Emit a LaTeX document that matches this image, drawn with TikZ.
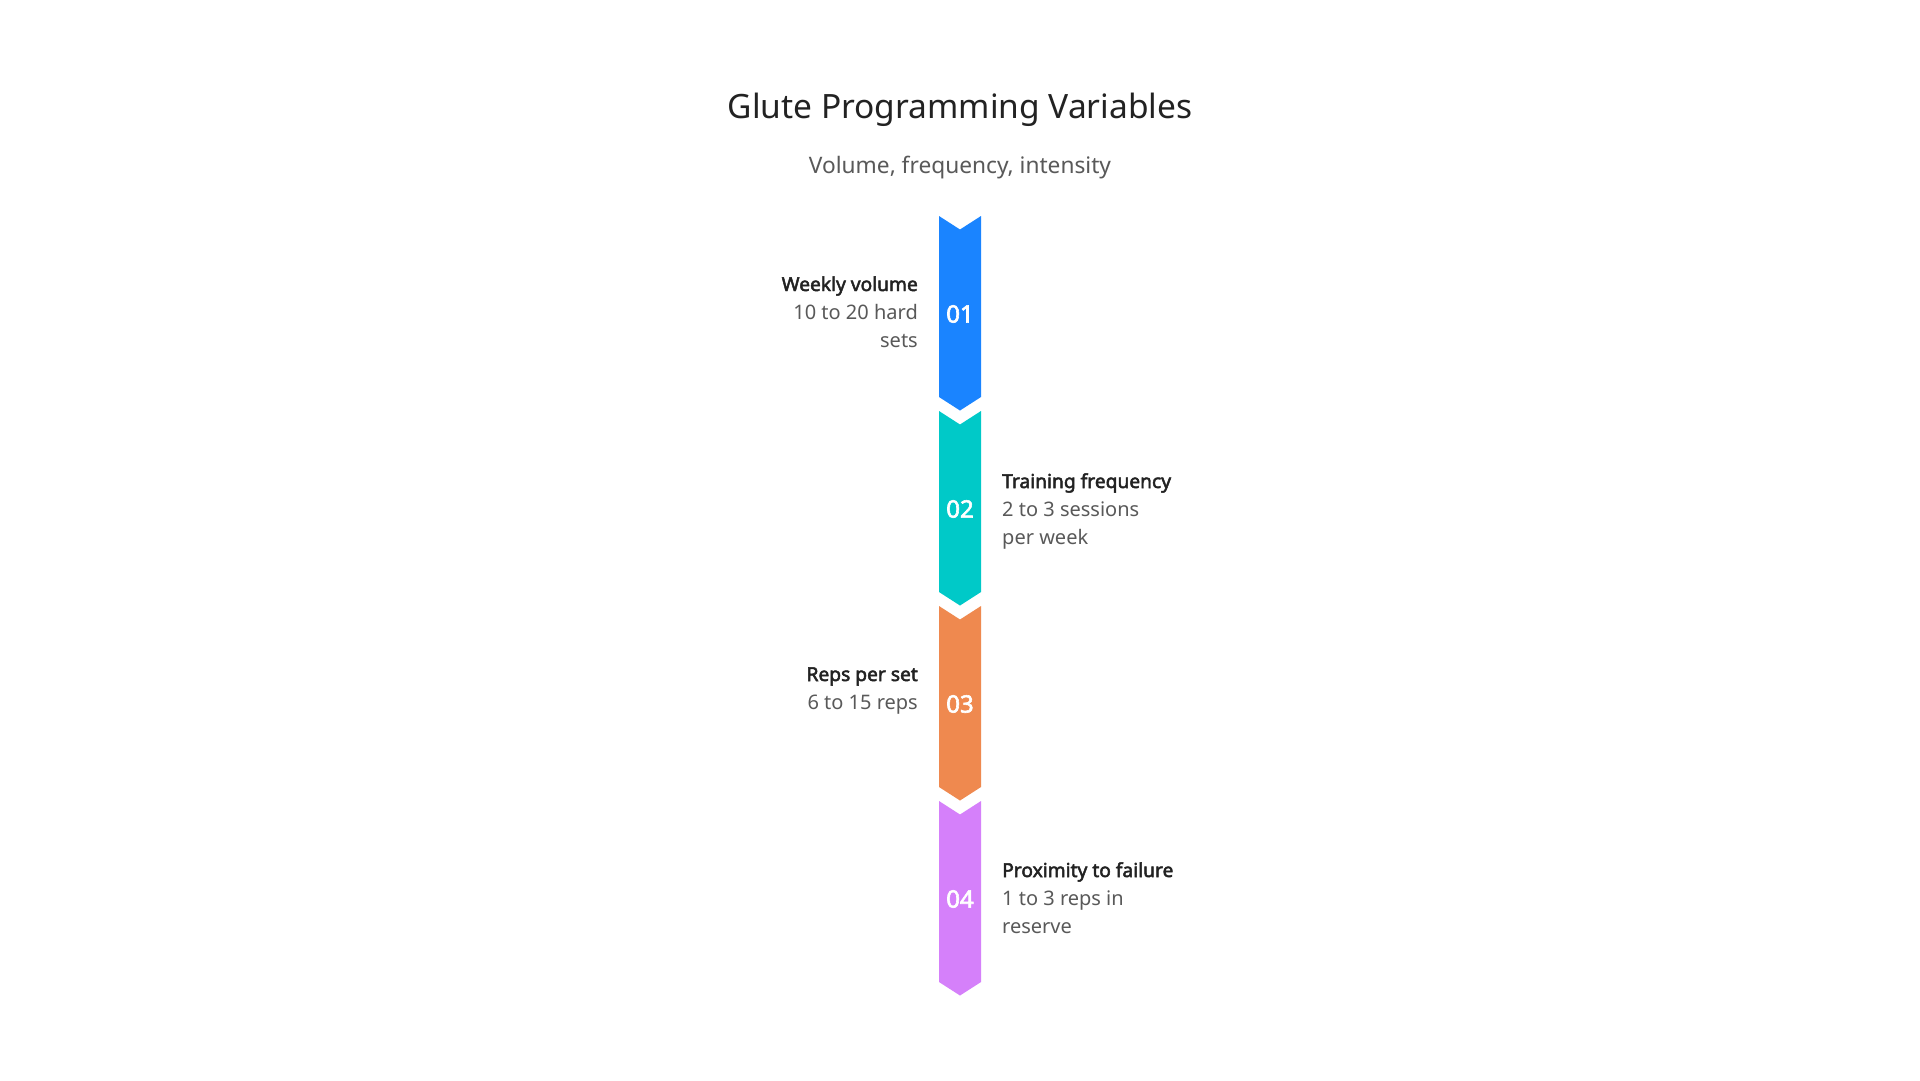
\documentclass[tikz,border=0pt]{standalone}
\usepackage{fontspec}
\setmainfont{Noto Sans}[BoldFont={Noto Sans},BoldFeatures={FakeBold=2.5}]
\definecolor{segblue}{HTML}{1A84FF}
\definecolor{segteal}{HTML}{00C9C8}
\definecolor{segorange}{HTML}{EF894F}
\definecolor{segpurple}{HTML}{D580FA}
\definecolor{inkdark}{HTML}{222222}
\definecolor{inkgray}{HTML}{595959}
\newcommand{\itemhead}[1]{{\color{inkdark}\fontsize{19.2}{28}\selectfont\bfseries #1}}

\begin{document}
\begin{tikzpicture}[x=1pt,y=-1pt,
    num/.style={text=white,inner sep=0pt,font=\fontsize{24}{24}\selectfont\bfseries},
    lefttext/.style={anchor=base east,align=right,inner sep=0pt,text=inkgray,font=\fontsize{20}{28}\selectfont},
    righttext/.style={anchor=base west,align=left,inner sep=0pt,text=inkgray,font=\fontsize{20}{28}\selectfont}]
        \useasboundingbox[fill=white] (0,0) rectangle (1920,1080);
        \node[anchor=base,inner sep=0pt,text=inkdark,font=\fontsize{33.5}{34}\selectfont] (title) at (960,118.3) {Glute Programming Variables};
        \node[anchor=base,inner sep=0pt,text=inkgray,font=\fontsize{22.7}{23}\selectfont] (subtitle) at (960,173.3) {Volume, frequency, intensity};
        % chevron segments
        \fill[segblue] (939,216) -- ++(21,13.5) -- ++(21,-13.5) -- ++(0,181) -- ++(-21,13.5) -- ++(-21,-13.5) -- cycle;
        \fill[segteal] (939,411) -- ++(21,13.5) -- ++(21,-13.5) -- ++(0,181) -- ++(-21,13.5) -- ++(-21,-13.5) -- cycle;
        \fill[segorange] (939,606) -- ++(21,13.5) -- ++(21,-13.5) -- ++(0,181) -- ++(-21,13.5) -- ++(-21,-13.5) -- cycle;
        \fill[segpurple] (939,801) -- ++(21,13.5) -- ++(21,-13.5) -- ++(0,181) -- ++(-21,13.5) -- ++(-21,-13.5) -- cycle;
        \node[num] (n1) at (960,314) {01};
        \node[num] (n2) at (960,509) {02};
        \node[num] (n3) at (960,704) {03};
        \node[num] (n4) at (960,899) {04};
        % labels (base = last line)
        \node[lefttext] (volume) at (918,347) {\itemhead{Weekly volume}\\10 to 20 hard\\sets};
        \node[righttext] (frequency) at (1002,544) {\itemhead{Training frequency}\\2 to 3 sessions\\per week};
        \node[lefttext] (reps) at (918,709) {\itemhead{Reps per set}\\6 to 15 reps};
        \node[righttext] (failure) at (1002,933) {\itemhead{Proximity to failure}\\1 to 3 reps in\\reserve};
    \end{tikzpicture}
\end{document}
